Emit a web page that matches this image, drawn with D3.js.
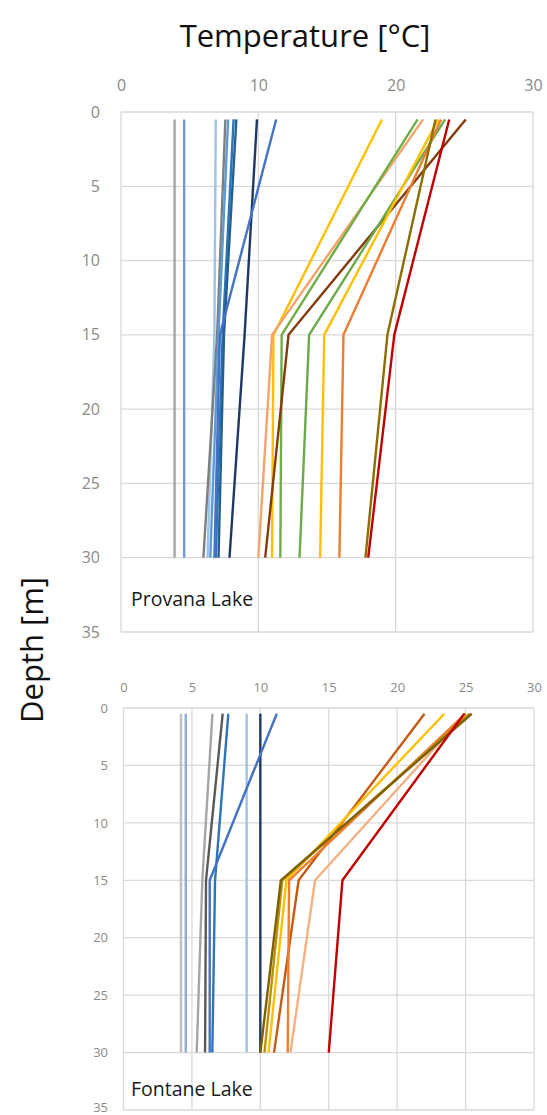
<!DOCTYPE html>
<html>
<head>
<meta charset="utf-8">
<script src="https://cdn.jsdelivr.net/npm/d3@7"></script>
<style>
  html, body { margin: 0; padding: 0; background: #fff; }
  svg { display: block; }
  text { font-family: "Open Sans", "Noto Sans", sans-serif; }
</style>
</head>
<body>
<svg id="chart" width="547" height="1115"></svg>
<script>
// ---- data ----
const depthLevels = [0.5, 15, 30];
const tempDomain = [0, 30];
const depthDomain = [0, 35];
const xTicksProvana = [0, 10, 20, 30];
const xTicksFontane = [0, 5, 10, 15, 20, 25, 30];
const yTicks = [0, 5, 10, 15, 20, 25, 30, 35];

const provanaLabel = "Provana Lake";
const provanaProfiles = [
  [3.9, 3.9, 3.9],
  [4.6, 4.6, 4.6],
  [6.9, 6.8, 6.3],
  [7.6, 7.0, 6.0],
  [7.8, 7.1, 6.5],
  [8.2, 7.4, 6.9],
  [8.4, 7.5, 7.1],
  [9.9, 9.0, 7.9],
  [11.3, 7.2, 6.8],
  [19.0, 11.1, 11.0],
  [22.0, 11.0, 10.0],
  [21.6, 11.7, 11.6],
  [25.1, 12.2, 10.5],
  [23.6, 13.7, 13.0],
  [23.1, 14.8, 14.5],
  [23.3, 16.2, 15.9],
  [22.9, 19.4, 17.8],
  [23.9, 19.9, 18.0]
];
const provanaColors = [
  "#a5a5a5", "#7396d6", "#9dc3e6", "#7f7f7f", "#5b9bd5", "#2e75b6", "#255e91",
  "#1f3864", "#4472c4", "#ffc000", "#f4a46a", "#70ad47", "#843c0c", "#6aaa4a",
  "#ffc000", "#ed7d31", "#8c6d00", "#c00000"
];

const fontaneLabel = "Fontane Lake";
const fontaneProfiles = [
  [4.2, 4.2, 4.2],
  [4.55, 4.55, 4.55],
  [6.5, 5.76, 5.35],
  [7.25, 6.03, 5.96],
  [7.66, 6.69, 6.49],
  [9.0, 9.0, 9.0],
  [10.0, 10.0, 10.0],
  [11.2, 6.3, 6.3],
  [22.0, 12.8, 11.0],
  [23.45, 11.9, 10.6],
  [25.0, 14.0, 12.2],
  [25.0, 12.1, 12.0],
  [25.3, 11.6, 10.3],
  [25.45, 11.5, 10.0],
  [24.9, 16.0, 15.0]
];
const fontaneColors = [
  "#bfbfbf", "#8faadc", "#a5a5a5", "#595959", "#2e75b6", "#9dc3e6", "#1f3864",
  "#4472c4", "#c55a11", "#ffc000", "#f4b183", "#ed7d31", "#bf9000", "#7f6000",
  "#c00000"
];

const titleText = "Temperature [°C]";
const yTitleText = "Depth [m]";

// ---- drawing ----
const svg = d3.select("#chart");

function panel(cfg) {
  const x = d3.scaleLinear().domain(tempDomain).range([cfg.left, cfg.right]);
  const y = d3.scaleLinear().domain(depthDomain).range([cfg.top, cfg.bottom]);
  const g = svg.append("g");

  // grid
  g.append("g").selectAll("line").data(cfg.xTicks).join("line")
    .attr("x1", d => x(d)).attr("x2", d => x(d))
    .attr("y1", y(0)).attr("y2", y(35))
    .attr("stroke", "#d9d9d9").attr("stroke-width", 1.3);
  g.append("g").selectAll("line").data(yTicks).join("line")
    .attr("y1", d => y(d)).attr("y2", d => y(d))
    .attr("x1", x(0)).attr("x2", x(30))
    .attr("stroke", "#d9d9d9").attr("stroke-width", 1.3);

  // axes (labels only)
  const xAxis = d3.axisTop(x).tickValues(cfg.xTicks).tickSize(0).tickPadding(0);
  const xg = g.append("g").attr("transform", `translate(0,${cfg.xLabelY})`).call(xAxis);
  xg.select(".domain").remove();
  xg.selectAll("text").attr("fill", "#8a8a8a").attr("font-size", cfg.tickSize)
    .attr("dy", "0.35em").attr("font-family", "'Open Sans', sans-serif");

  const yAxis = d3.axisLeft(y).tickValues(yTicks).tickSize(0).tickPadding(0);
  const yg = g.append("g").attr("transform", `translate(${cfg.yLabelX},0)`).call(yAxis);
  yg.select(".domain").remove();
  yg.selectAll("text").attr("fill", "#8a8a8a").attr("font-size", cfg.tickSize)
    .attr("font-family", "'Open Sans', sans-serif")
    .attr("dy", d => (cfg.lastShift && d === 35) ? "0.1em" : "0.32em");

  // lines
  const line = d3.line().x(d => x(d[0])).y(d => y(d[1]));
  g.append("g").selectAll("path").data(cfg.profiles).join("path")
    .attr("d", vals => line(vals.map((v, i) => [v, depthLevels[i]])))
    .attr("fill", "none")
    .attr("stroke", (d, i) => cfg.colors[i])
    .attr("stroke-width", 2.4)
    .attr("stroke-linejoin", "round");

  g.append("text").attr("x", cfg.labelX).attr("y", cfg.labelY)
    .attr("font-size", 19.5).attr("fill", "#1a1a1a").text(cfg.label);
}

panel({
  left: 121, right: 533, top: 112, bottom: 632,
  xTicks: xTicksProvana, xLabelY: 85, yLabelX: 100, tickSize: 16,
  profiles: provanaProfiles, colors: provanaColors,
  label: provanaLabel, labelX: 131, labelY: 606, lastShift: false
});

panel({
  left: 123.5, right: 534, top: 708, bottom: 1110,
  xTicks: xTicksFontane, xLabelY: 687, yLabelX: 108, tickSize: 13,
  profiles: fontaneProfiles, colors: fontaneColors,
  label: fontaneLabel, labelX: 131, labelY: 1096, lastShift: true
});

svg.append("text").attr("x", 305).attr("y", 47)
  .attr("text-anchor", "middle").attr("font-size", 31).attr("fill", "#111")
  .text(titleText);

svg.append("text")
  .attr("transform", "translate(43,650) rotate(-90)")
  .attr("text-anchor", "middle").attr("font-size", 31).attr("fill", "#111")
  .text(yTitleText);
</script>
</body>
</html>
